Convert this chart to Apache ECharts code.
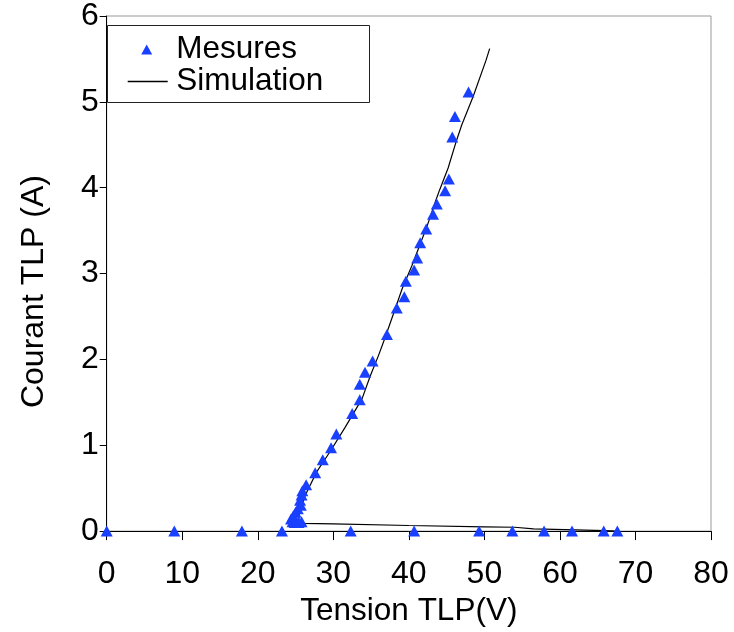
<!DOCTYPE html>
<html>
<head>
<meta charset="utf-8">
<script src="https://cdn.jsdelivr.net/npm/echarts@6/dist/echarts.min.js"></script>
<style>html,body{margin:0;padding:0;background:#fff;}#c{width:734px;height:632px;}</style>
</head>
<body>
<div id="c"></div>
<script>
var mesuresX = [0, 8.95, 17.9, 23.2, 32.3, 40.7, 49.3, 53.7, 57.9, 61.6, 65.8, 67.6,
  24.4, 24.7, 25.0, 25.3, 25.7, 25.6, 25.8, 25.9, 24.9, 25.4, 25.8, 24.6,
  26.4, 27.6, 28.6, 29.7, 30.4, 32.5, 33.5, 33.5, 34.2, 35.2, 37.1, 38.4, 39.4, 39.6,
  40.7, 41.1, 41.5, 42.3, 43.2, 43.7, 44.8, 45.3, 45.75, 46.1, 47.9];
var mesuresY = [0, 0, 0, 0, 0, 0, 0, 0, 0, 0, 0, 0,
  0.14, 0.18, 0.22, 0.26, 0.30, 0.36, 0.42, 0.47, 0.10, 0.10, 0.11, 0.11,
  0.54, 0.68, 0.83, 0.97, 1.13, 1.37, 1.53, 1.71, 1.85, 1.98, 2.29, 2.60, 2.73, 2.91,
  3.04, 3.18, 3.36, 3.52, 3.69, 3.81, 3.965, 4.10, 4.59, 4.83, 5.115];
var simX = [67.5, 66, 62, 56.5, 54, 50, 40, 30, 26, 25.4, 25.5, 26.3, 27.8, 29.6, 31.5, 33.8, 34.9, 36.0,
  36.8, 38.2, 39.1, 40.4, 42.4, 43.6, 44.1, 45.2, 46.2, 47.0, 48.5, 50.2, 50.7];
var simY = [0, 0.005, 0.015, 0.025, 0.045, 0.05, 0.065, 0.085, 0.09, 0.10, 0.2, 0.42, 0.69, 0.93, 1.20, 1.54, 1.81, 2.05,
  2.24, 2.59, 2.82, 3.09, 3.55, 3.86, 3.98, 4.23, 4.52, 4.73, 5.06, 5.48, 5.62];
var xTicks = [0, 10, 20, 30, 40, 50, 60, 70, 80];
var yTicks = [0, 1, 2, 3, 4, 5, 6];

var mesures = mesuresX.map(function (x, i) { return [x, mesuresY[i]]; });
var sim = simX.map(function (x, i) { return [x, simY[i]]; });

var FONT = '"Liberation Sans", Arial, sans-serif';
var BLUE = '#1a40ff';
var chart = echarts.init(document.getElementById('c'));
chart.setOption({
  animation: false,
  backgroundColor: '#fff',
  textStyle: { fontFamily: FONT },
  grid: { left: 106.7, right: 23, top: 15.3, bottom: 98.7, show: true, borderColor: '#999', borderWidth: 1 },
  graphic: [{
    type: 'rect', z: 90,
    shape: { x: 107.5, y: 25.5, width: 262, height: 77 },
    style: { fill: '#fff', stroke: '#222', lineWidth: 1 }
  }],
  legend: [{
    orient: 'vertical', left: 141.2, top: 33.5, padding: 0, z: 100,
    itemWidth: 11, itemHeight: 10,
    itemStyle: { opacity: 1 },
    textStyle: { fontSize: 31.5, color: '#000', fontFamily: FONT, padding: [0, 0, 0, 19] },
    data: [{ name: 'Mesures', icon: 'triangle' }]
  }, {
    orient: 'vertical', left: 127.7, top: 65.5, padding: 0, z: 100,
    itemWidth: 40, itemHeight: 1.3,
    textStyle: { fontSize: 31.5, color: '#000', fontFamily: FONT, padding: [0, 0, 0, 3.5] },
    data: [{ name: 'Simulation', icon: 'rect' }]
  }],
  xAxis: {
    type: 'value', min: xTicks[0], max: xTicks[xTicks.length - 1], interval: 10,
    name: 'Tension TLP(V)', nameLocation: 'middle', nameGap: 58,
    nameTextStyle: { fontSize: 31.5, color: '#000', fontFamily: FONT },
    axisLine: { lineStyle: { color: '#000', width: 1 } },
    axisTick: { show: true, inside: false, length: 9, lineStyle: { color: '#000' } },
    axisLabel: { fontSize: 32, color: '#000', margin: 27, fontFamily: FONT },
    splitLine: { show: false }
  },
  yAxis: {
    type: 'value', min: yTicks[0], max: yTicks[yTicks.length - 1], interval: 1,
    name: 'Courant TLP (A)', nameLocation: 'middle', nameGap: 57,
    nameTextStyle: { fontSize: 32, color: '#000', fontFamily: FONT, padding: [0, 36, 0, 0] },
    axisLine: { show: true, lineStyle: { color: '#000', width: 1 } },
    axisTick: { show: true, inside: false, length: 7, lineStyle: { color: '#000' } },
    axisLabel: { fontSize: 32, color: '#000', margin: 8, fontFamily: FONT },
    splitLine: { show: false }
  },
  series: [
    {
      name: 'Mesures', type: 'scatter', data: mesures,
      symbol: 'triangle', symbolSize: [12, 11],
      itemStyle: { color: BLUE, opacity: 1 }, z: 3
    },
    {
      name: 'Simulation', type: 'line', data: sim,
      symbol: 'none', showSymbol: false,
      itemStyle: { color: '#000' },
      lineStyle: { color: '#000', width: 1.2 }, z: 2
    }
  ]
});
</script>
</body>
</html>
